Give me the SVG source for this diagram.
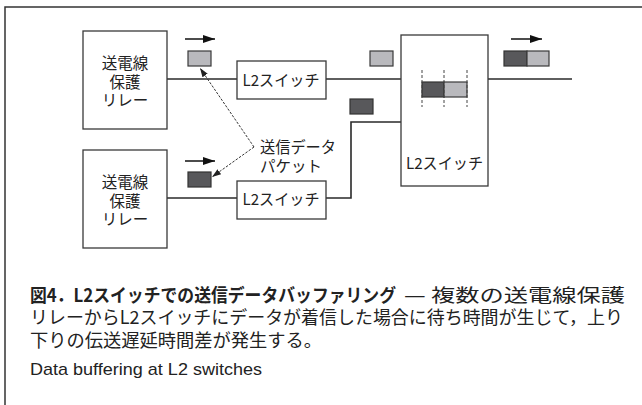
<svg xmlns="http://www.w3.org/2000/svg" width="642" height="405" viewBox="0 0 642 405">
<defs>
<style>
.box{fill:#fff;stroke:#3a3a3a;stroke-width:1.3}
.ln{fill:none;stroke:#2a2a2a;stroke-width:1.6}
.lt{fill:#b9b9bd;stroke:#3a3a3a;stroke-width:1.2}
.dk{fill:#58585b;stroke:#333;stroke-width:1.2}
.dash{fill:none;stroke:#333;stroke-width:1;stroke-dasharray:2.5 1.5}
.vd{fill:none;stroke:#444;stroke-width:1;stroke-dasharray:3 2}
.t{font-family:"Noto Sans CJK JP","Liberation Sans",sans-serif;font-size:15.5px;fill:#222;text-anchor:middle}
.cap{font-family:"Noto Sans CJK JP",sans-serif;font-size:18px;fill:#222}
.capb{font-weight:bold;font-size:18.5px}
.en{font-family:"Liberation Sans",Arial,sans-serif;font-size:17px;fill:#222}
</style>
<marker id="ah" viewBox="0 0 10 10" refX="10" refY="5" markerWidth="9" markerHeight="9" markerUnits="userSpaceOnUse" orient="auto"><path d="M0,1.5 L10,5 L0,8.5 Z" fill="#222"/></marker>
<marker id="big" viewBox="0 0 12 8" refX="12" refY="4" markerWidth="12" markerHeight="8" markerUnits="userSpaceOnUse" orient="auto"><path d="M0,0 L12,4 L0,8 Z" fill="#111"/></marker>
</defs>
<rect width="642" height="405" fill="#fff"/>
<path d="M5,405 V7 H642" fill="none" stroke="#333" stroke-width="1.5"/>

<g id="connectors">
<path class="ln" d="M167,79 H237"/>
<path class="ln" d="M326,79 H401"/>
<path class="ln" d="M488,79 H572"/>
<path class="ln" d="M167,198 H237"/>
<path class="ln" d="M326,198 H351 V122 H401"/>
<path class="dash" d="M254,147 L200,68" marker-end="url(#ah)"/>
<path class="dash" d="M254,147 L212,177" marker-end="url(#ah)"/>
<path d="M185,39 H215" stroke="#111" stroke-width="1.5" marker-end="url(#big)"/>
<path d="M185,161 H215" stroke="#111" stroke-width="1.5" marker-end="url(#big)"/>
<path d="M511,39 H542" stroke="#111" stroke-width="1.5" marker-end="url(#big)"/>
</g>

<g id="relay1">
<rect class="box" x="83" y="31" width="84" height="98"/>
<text class="t"><tspan x="125" y="69">送電線</tspan><tspan x="125" y="88">保護</tspan><tspan x="125" y="106">リレー</tspan></text>
</g>
<g id="relay2">
<rect class="box" x="83" y="150" width="84" height="98"/>
<text class="t"><tspan x="125" y="188">送電線</tspan><tspan x="125" y="207">保護</tspan><tspan x="125" y="225">リレー</tspan></text>
</g>
<g id="switch1">
<rect class="box" x="237" y="61" width="89" height="38"/>
<text class="t" x="281" y="86" textLength="77" lengthAdjust="spacingAndGlyphs">L2スイッチ</text>
</g>
<g id="switch2">
<rect class="box" x="237" y="181" width="89" height="38"/>
<text class="t" x="281" y="205" textLength="77" lengthAdjust="spacingAndGlyphs">L2スイッチ</text>
</g>
<g id="switch3">
<rect class="box" x="401" y="35" width="87" height="151"/>
<rect class="dk" x="422" y="82" width="22" height="15"/>
<rect class="lt" x="444" y="82" width="23" height="15"/>
<path class="vd" d="M422,70 V107 M444,70 V107 M467,70 V107"/>
<text class="t" x="444.5" y="169" textLength="77" lengthAdjust="spacingAndGlyphs">L2スイッチ</text>
</g>
<g id="packets">
<rect class="lt" x="188" y="51" width="23" height="15"/>
<rect class="dk" x="188" y="172" width="23" height="15"/>
<rect class="lt" x="370" y="51" width="23" height="15"/>
<rect class="dk" x="350" y="99" width="23" height="15"/>
<rect class="dk" x="504" y="51" width="23" height="15"/>
<rect class="lt" x="527" y="51" width="22" height="15"/>
</g>
<g id="label">
<text class="t" style="text-anchor:start"><tspan x="260" y="153" textLength="76" lengthAdjust="spacingAndGlyphs">送信データ</tspan><tspan x="260" y="172">パケット</tspan></text>
</g>

<g id="caption">
<text class="cap"><tspan class="capb" x="30" y="302" textLength="366" lengthAdjust="spacingAndGlyphs">図4．L2スイッチでの送信データバッファリング</tspan><tspan x="404" y="302" textLength="221" lengthAdjust="spacingAndGlyphs">— 複数の送電線保護</tspan><tspan x="30" y="324" textLength="593" lengthAdjust="spacingAndGlyphs">リレーからL2スイッチにデータが着信した場合に待ち時間が生じて，上り</tspan><tspan x="30" y="347" textLength="292" lengthAdjust="spacingAndGlyphs">下りの伝送遅延時間差が発生する。</tspan></text>
<text class="en" x="30" y="375" textLength="232" lengthAdjust="spacingAndGlyphs">Data buffering at L2 switches</text>
</g>
</svg>
